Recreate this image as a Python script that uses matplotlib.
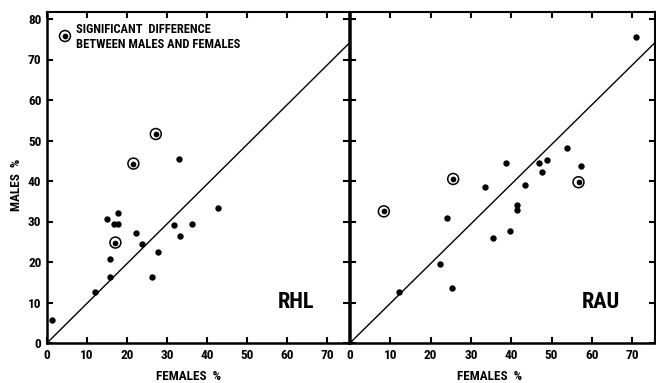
import matplotlib
matplotlib.use("Agg")
import matplotlib.pyplot as plt
from matplotlib import font_manager

# ---- data ----
rhl_f = [1.3, 12.0, 15.75, 15.75, 14.9, 17.7, 16.8, 17.8, 22.2, 23.8, 27.8, 26.2, 31.75, 33.25, 36.3, 42.8, 33.1]
rhl_m = [5.7, 12.5, 16.3, 20.8, 30.5, 32.0, 29.3, 29.3, 27.2, 24.4, 22.5, 16.3, 29.1, 26.4, 29.3, 33.3, 45.4]
rhl_sig_f = [27.2, 21.6, 17.1]
rhl_sig_m = [51.6, 44.3, 24.8]

rau_f = [70.9, 53.9, 46.9, 49.0, 47.6, 57.4, 38.6, 33.6, 43.5, 24.1, 41.4, 41.4, 35.5, 39.8, 22.3, 12.2, 25.2]
rau_m = [75.6, 48.1, 44.5, 45.1, 42.3, 43.7, 44.5, 38.6, 38.9, 30.9, 34.1, 32.9, 25.9, 27.7, 19.6, 12.6, 13.5]
rau_sig_f = [25.6, 56.7, 8.4]
rau_sig_m = [40.5, 39.7, 32.5]

x_ticks = [0, 10, 20, 30, 40, 50, 60, 70]
y_ticks = [0, 10, 20, 30, 40, 50, 60, 70, 80]
panel_labels = ["RHL", "RAU"]

# pick a condensed bold font if available
fl = font_manager.fontManager.ttflist
names = {f.name for f in fl}
family, stretch = "DejaVu Sans", "normal"
for cand in ["Liberation Sans Narrow", "Roboto Condensed", "Open Sans Condensed", "Noto Sans Condensed"]:
    if cand in names:
        family = cand
        break
else:
    for f in fl:
        if f.name == "DejaVu Sans" and f.stretch in ("condensed", "semi-condensed", 700) :
            stretch = "condensed"
            break
    else:
        for f in fl:
            if "Condensed" in f.fname or "Narrow" in f.fname:
                family = f.name
                break

plt.rcParams['font.family'] = [family, "DejaVu Sans"]
plt.rcParams['font.stretch'] = stretch
plt.rcParams['font.weight'] = 'bold'

W, H = 656, 383
fig = plt.figure(figsize=(W / 100, H / 100), dpi=100)

def fx(px):
    return px / W

def fy(py):
    return 1 - py / H

top, bot = 12, 343
ax1 = fig.add_axes([fx(47), fy(bot), fx(349 - 47), (bot - top) / H])
ax2 = fig.add_axes([fx(350), fy(bot), fx(655 - 350), (bot - top) / H])

ylim = (0, (bot - top) / 4.05)
panels = [
    (ax1, rhl_f, rhl_m, rhl_sig_f, rhl_sig_m, (0, (349 - 47) / 4.0), panel_labels[0]),
    (ax2, rau_f, rau_m, rau_sig_f, rau_sig_m, (0, (655 - 350) / 4.03), panel_labels[1]),
]

for ax, xf, ym, sf, sm, xl, lab in panels:
    ax.plot([0, 100], [0, 98], color='black', lw=1.0, zorder=1)
    ax.scatter(xf, ym, s=21, color='black', zorder=3, linewidths=0)
    ax.scatter(sf, sm, s=17, color='black', zorder=3, linewidths=0)
    ax.scatter(sf, sm, s=62, facecolors='none', edgecolors='black', linewidths=1.1, zorder=3)
    ax.set_xlim(*xl)
    ax.set_ylim(*ylim)
    ax.set_xticks(x_ticks)
    ax.set_yticks(y_ticks)
    ax.tick_params(direction='in', length=4, width=1.5, top=True, right=True,
                   labelsize=9.5, pad=4)
    for lbl in ax.get_xticklabels() + ax.get_yticklabels():
        lbl.set_fontweight('bold')
    for s in ['left', 'bottom', 'right']:
        ax.spines[s].set_linewidth(1.8)
    ax.spines['top'].set_linewidth(1.5)
    ax.text(62.3, 10.2, lab, fontsize=16, fontweight='bold', ha='center', va='center')

ax2.tick_params(labelleft=False)
ax2.spines['right'].set_linewidth(1.5)

# legend
ax1.scatter([4.5], [75.8], s=17, color='black', zorder=3, linewidths=0)
ax1.scatter([4.5], [75.8], s=62, facecolors='none', edgecolors='black', linewidths=1.1, zorder=3)
ax1.text(7.3, 75.5, "SIGNIFICANT  DIFFERENCE\nBETWEEN MALES AND FEMALES", fontsize=9.0,
         fontweight='bold', ha='left', va='center', linespacing=1.2)

# axis labels
fig.text(fx(17), fy(185), "MALES  %", rotation=90, ha='center', va='center',
         fontsize=9.5, fontweight='bold')
fig.text(fx(189), fy(380), "FEMALES  %", ha='center', va='baseline', fontsize=9.5, fontweight='bold')
fig.text(fx(490), fy(380), "FEMALES  %", ha='center', va='baseline', fontsize=9.5, fontweight='bold')

fig.savefig("out.png", dpi=100)
